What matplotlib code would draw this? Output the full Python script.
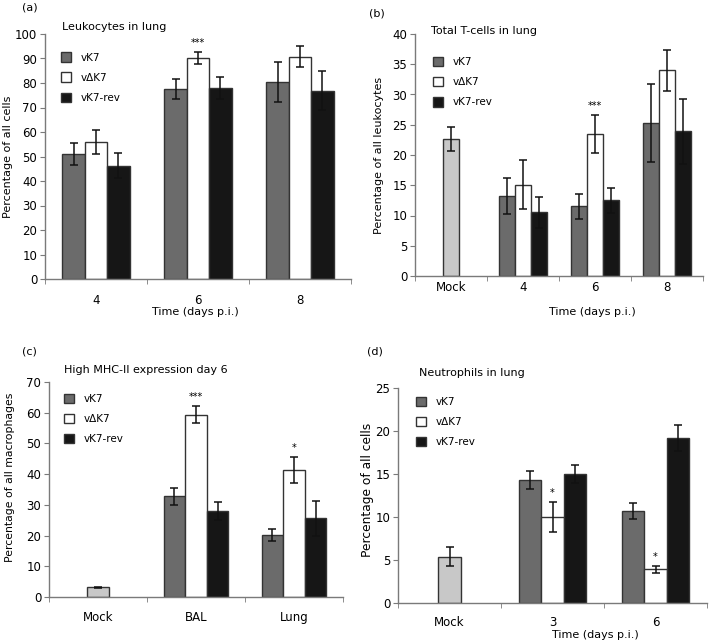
import numpy as np
import matplotlib.pyplot as plt
from matplotlib.patches import Patch

plt.rcParams['font.family'] = ['DejaVu Sans']

# colours
C_VK7 = '#6b6b6b'
C_VDK7 = '#ffffff'
C_REV = '#161616'
C_MOCK = '#c8c8c8'
EDGE = '#333333'
SPINE = '#7a7a7a'

series_names = ['vK7', 'v\u0394K7', 'vK7-rev']

# (a) Leukocytes in lung
a_groups = ['4', '6', '8']
a_vk7 = [51.0, 77.5, 80.4]
a_vk7_err = [4.5, 4.2, 8.2]
a_vdk7 = [56.0, 90.2, 90.8]
a_vdk7_err = [5.0, 2.3, 4.2]
a_rev = [46.3, 78.1, 76.9]
a_rev_err = [5.0, 4.5, 8.0]
a_stars = ['', '***', '']

# (b) Total T-cells in lung
b_groups = ['Mock', '4', '6', '8']
b_mock = 22.7
b_mock_err = 2.0
b_vk7 = [13.2, 11.5, 25.3]
b_vk7_err = [3.0, 2.0, 6.5]
b_vdk7 = [15.1, 23.5, 34.0]
b_vdk7_err = [4.0, 3.1, 3.4]
b_rev = [10.5, 12.5, 23.9]
b_rev_err = [2.5, 2.1, 5.4]
b_stars = ['', '***', '']

# (c) High MHC-II expression day 6
c_groups = ['Mock', 'BAL', 'Lung']
c_mock = 3.1
c_mock_err = 0.3
c_vk7 = [32.8, 20.1]
c_vk7_err = [2.8, 2.0]
c_vdk7 = [59.4, 41.4]
c_vdk7_err = [2.8, 4.2]
c_rev = [27.9, 25.7]
c_rev_err = [2.9, 5.7]
c_stars = ['***', '*']

# (d) Neutrophils in lung
d_groups = ['Mock', '3', '6']
d_mock = 5.4
d_mock_err = 1.1
d_vk7 = [14.3, 10.7]
d_vk7_err = [1.05, 0.9]
d_vdk7 = [10.0, 3.9]
d_vdk7_err = [1.7, 0.45]
d_rev = [15.0, 19.15]
d_rev_err = [1.05, 1.5]
d_stars = ['*', '*']

W = 0.22
ERR_KW = dict(ecolor='#111111', elinewidth=1.1, capsize=2.6, capthick=1.1)


def draw_panel(ax, groups, vals, errs, stars, ymax, ystep, mock=None, mock_err=None,
               xpad=10, legend_anchor=(0.05, 0.93)):
    n = len(groups)
    x = np.arange(n)
    start = 0
    if mock is not None:
        ax.bar(x[0], mock, W, color=C_MOCK, edgecolor=EDGE, linewidth=1, zorder=2)
        ax.errorbar(x[0], mock, yerr=mock_err, fmt='none', zorder=3, **ERR_KW)
        start = 1
    xs = x[start:]
    colors = [C_VK7, C_VDK7, C_REV]
    for k, (v, e, c) in enumerate(zip(vals, errs, colors)):
        pos = xs + (k - 1) * W
        ax.bar(pos, v, W, color=c, edgecolor=EDGE, linewidth=1, zorder=2)
        ax.errorbar(pos, v, yerr=e, fmt='none', zorder=3, **ERR_KW)
    # significance marks above vdK7
    for xi, v, e, s in zip(xs, vals[1], errs[1], stars):
        if s:
            ax.annotate(s, (xi, v + e), xytext=(0, 6.5), textcoords='offset points',
                        ha='center', va='center', fontsize=7)

    ax.set_xlim(-0.5, n - 0.5)
    ax.set_ylim(0, ymax)
    ax.set_yticks(np.arange(0, ymax + 0.1, ystep))
    ax.set_xticks(x)
    ax.set_xticklabels(groups)
    ax.set_xticks(np.arange(-0.5, n, 1.0), minor=True)
    ax.tick_params(axis='x', which='major', length=0, pad=xpad, labelsize=8.5)
    ax.tick_params(axis='x', which='minor', length=3.5, direction='out', color=SPINE)
    ax.tick_params(axis='y', length=3.5, direction='out', color=SPINE, pad=2, labelsize=8.5)
    for s in ['top', 'right']:
        ax.spines[s].set_visible(False)
    for s in ['left', 'bottom']:
        ax.spines[s].set_color(SPINE)
        ax.spines[s].set_linewidth(1)

    handles = [Patch(facecolor=c, edgecolor=EDGE, linewidth=1) for c in colors]
    ax.legend(handles, series_names, loc='upper left', bbox_to_anchor=legend_anchor,
              frameon=False, fontsize=7.5, handlelength=1.0, handleheight=1.0,
              handletextpad=0.9, labelspacing=0.95, borderpad=0, borderaxespad=0)


fig = plt.figure(figsize=(7.09, 6.43), dpi=100)
FW, FH = 709.0, 643.0


def add_axes(left, right, top, bottom):
    return fig.add_axes([left / FW, 1 - bottom / FH, (right - left) / FW, (bottom - top) / FH])


def ftext(x, y, s, size=8, rot=0, ha='left'):
    fig.text(x / FW, 1 - y / FH, s, ha=ha, va='center', fontsize=size, rotation=rot)


ax_a = add_axes(45, 351, 34, 279)
ax_b = add_axes(415, 703, 34, 276)
ax_c = add_axes(49, 343, 382, 597)
ax_d = add_axes(398, 707, 388, 603)

draw_panel(ax_a, a_groups, [a_vk7, a_vdk7, a_rev], [a_vk7_err, a_vdk7_err, a_rev_err],
           a_stars, 100, 10, xpad=10.5, legend_anchor=(0.052, 0.925))
draw_panel(ax_b, b_groups, [b_vk7, b_vdk7, b_rev], [b_vk7_err, b_vdk7_err, b_rev_err],
           b_stars, 40, 5, mock=b_mock, mock_err=b_mock_err, xpad=3.5,
           legend_anchor=(0.062, 0.905))
draw_panel(ax_c, c_groups, [c_vk7, c_vdk7, c_rev], [c_vk7_err, c_vdk7_err, c_rev_err],
           c_stars, 70, 10, mock=c_mock, mock_err=c_mock_err, xpad=10,
           legend_anchor=(0.051, 0.945))
draw_panel(ax_d, d_groups, [d_vk7, d_vdk7, d_rev], [d_vk7_err, d_vdk7_err, d_rev_err],
           d_stars, 25, 5, mock=d_mock, mock_err=d_mock_err, xpad=9.5,
           legend_anchor=(0.058, 0.96))

# y axis titles
ftext(8, 157, 'Percentage of all cells', size=8, rot=90, ha='center')
ftext(379, 155, 'Percentage of all leukocytes', size=8, rot=90, ha='center')
ftext(10, 477, 'Percentage of all macrophages', size=7.8, rot=90, ha='center')
ftext(367, 490, 'Percentage of all cells', size=8.8, rot=90, ha='center')

# x axis titles
ftext(195, 312, 'Time (days p.i.)', ha='center')
ftext(592, 312, 'Time (days p.i.)', ha='center')
ftext(595, 635, 'Time (days p.i.)', ha='center')

# panel letters and titles
ftext(22, 8, '(a)')
ftext(62, 27, 'Leukocytes in lung')
ftext(369, 13, '(b)')
ftext(431, 31, 'Total T-cells in lung')
ftext(22, 352, '(c)')
ftext(64, 370, 'High MHC-II expression day 6')
ftext(367, 352, '(d)')
ftext(419, 373, 'Neutrophils in lung')

fig.savefig('out.png', dpi=100)
